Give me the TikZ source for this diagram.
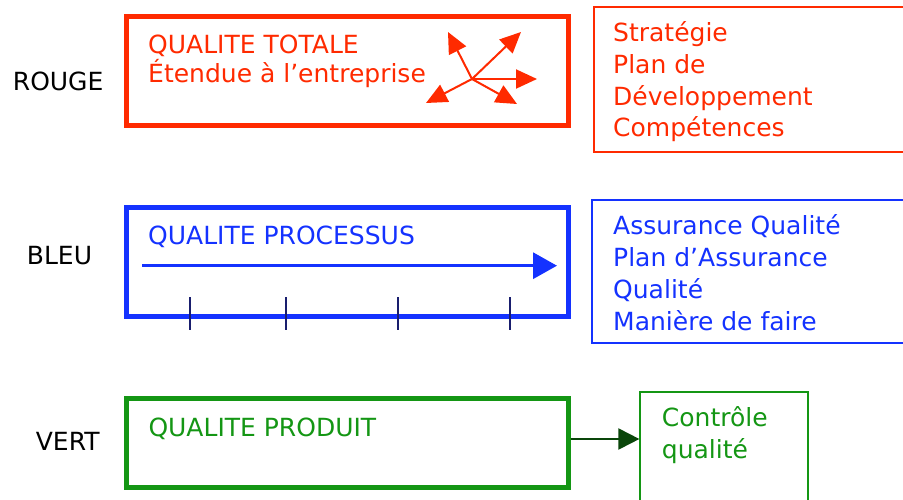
\documentclass[tikz,border=0pt]{standalone}
\usepackage{fontspec}
\setmainfont{DejaVu Sans}
\usetikzlibrary{arrows.meta}
\definecolor{rouge}{RGB}{255,42,0}
\definecolor{bleu}{RGB}{20,50,255}
\definecolor{vert}{RGB}{20,150,20}
\definecolor{vertfonce}{RGB}{10,70,10}
\definecolor{marine}{RGB}{25,30,110}
\tikzset{
  txt/.style={inner sep=0pt, anchor=base west, align=left,
    font=\fontsize{25}{31.7}\selectfont},
  bigbox/.style={draw, line width=5pt, minimum width=441.5pt},
  thinbox/.style={draw, line width=1.2pt},
}
\begin{document}
\begin{tikzpicture}[x=1pt,y=-1pt]
\useasboundingbox (0,0) rectangle (903,499);
% rouge (text nodes sit on the baseline of their last line)
\node[txt] (lrouge) at (12.7,90) {ROUGE};
\node[bigbox, draw=rouge, minimum height=109pt] (totale) at (347.25,70.5) {};
\node[txt, text=rouge] (ttotale) at (148,82) {QUALITE TOTALE\\[-2.7pt]Étendue à l’entreprise};
\node[thinbox, draw=rouge, minimum width=336pt, minimum height=145pt] (strategie) at (762,79.5) {};
\node[txt, text=rouge] (tstrategie) at (613,136.8) {Stratégie\\Plan de\\Développement\\Compétences};
\coordinate (hub) at (472,79);
\coordinate (p1) at (448,32);
\coordinate (p2) at (521,32);
\coordinate (p3) at (537,79);
\coordinate (p4) at (517,104);
\coordinate (p5) at (426,103);
\foreach \p in {p1,p2,p3,p4,p5}
  \draw[rouge, line width=2pt, -{Triangle[length=21pt,width=19pt]}] (hub) -- (\p);
% bleu
\node[txt] (lbleu) at (26.7,264.3) {BLEU};
\node[bigbox, draw=bleu, minimum height=109pt] (processus) at (347.35,261.5) {};
\node[txt, text=bleu] (tprocessus) at (148,244) {QUALITE PROCESSUS};
\node[thinbox, draw=bleu, minimum width=338pt, minimum height=143pt] (assurance) at (761,271.5) {};
\node[txt, text=bleu] (tassurance) at (613,330) {Assurance Qualité\\Plan d’Assurance\\Qualité\\Manière de faire};
\coordinate (debut) at (142,265.7);
\coordinate (fin) at (557,265.7);
\draw[bleu, line width=3.3pt, -{Triangle[length=24pt,width=26pt]}] (debut) -- (fin);
\foreach \x in {190,286,398,510}
  \draw[marine, line width=1.5pt] (\x,297) -- (\x,330);
% vert
\node[txt] (lvert) at (35.7,450) {VERT};
\node[bigbox, draw=vert, minimum height=88.3pt] (produit) at (347.25,442.85) {};
\node[txt, text=vert] (tproduit) at (148.3,436) {QUALITE PRODUIT};
\node[thinbox, draw=vert, minimum width=168pt, minimum height=128pt] (controle) at (724,456) {};
\node[txt, text=vert] (tcontrole) at (661.7,458.5) {Contrôle\\qualité};
\draw[vertfonce, line width=2pt, -{Triangle[length=21pt,width=21pt]}] (produit.east |- 0,439) -- (controle.west |- 0,439);
\end{tikzpicture}
\end{document}
